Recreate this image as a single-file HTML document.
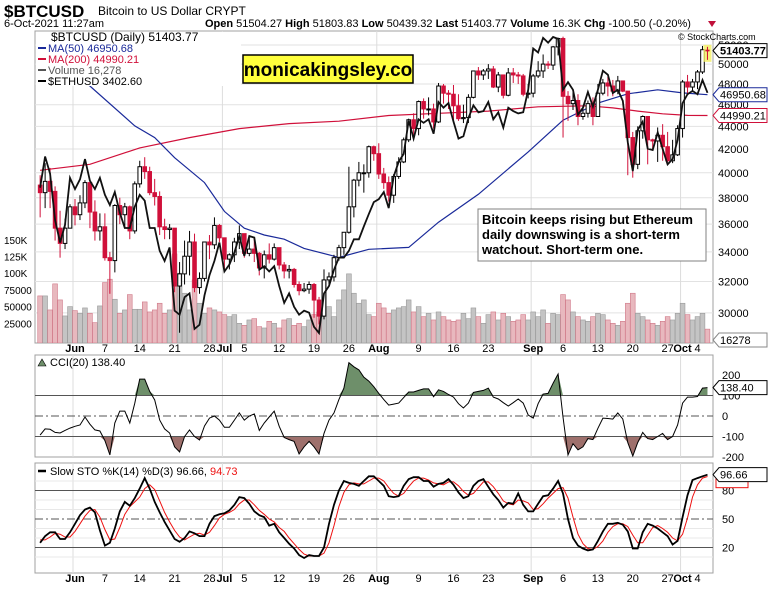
<!DOCTYPE html>
<html><head><meta charset="utf-8"><style>
body{margin:0;background:#fff;}
svg{display:block;font-family:"Liberation Sans",Arial,sans-serif;}
</style></head><body>
<svg id="chart" width="770" height="589" viewBox="0 0 770 589" xmlns="http://www.w3.org/2000/svg">
<defs>
<clipPath id="mainclip"><rect x="35" y="31" width="678" height="312"/></clipPath>
<clipPath id="cciclip"><rect x="35" y="355" width="678" height="102"/></clipPath>
<clipPath id="stoclip"><rect x="35" y="463" width="678" height="110"/></clipPath>
</defs>
<rect x="0" y="0" width="770" height="589" fill="#fff"/>
<text x="4" y="17" font-size="17" font-weight="bold">$BTCUSD</text>
<text x="98" y="15" font-size="12">Bitcoin to US Dollar  CRYPT</text>
<text x="4" y="27" font-size="11">6-Oct-2021 11:27am</text>
<text x="205" y="27" font-size="11"><tspan font-weight="bold">Open</tspan> 51504.27 <tspan font-weight="bold">High</tspan> 51803.83 <tspan font-weight="bold">Low</tspan> 50439.32 <tspan font-weight="bold">Last</tspan> 51403.77 <tspan font-weight="bold">Volume</tspan> 16.3K <tspan font-weight="bold">Chg</tspan> -100.50 (-0.20%)</text>
<polygon points="708,21 716,21 712,27" fill="#c0103a"/>
<g id="g"></g>
<text x="678" y="40" font-size="9">© StockCharts.com</text>
</svg>
<script>
// ---------- DATA ----------
const dayLabels = ['Jun','7','14','21','28','Jul','5','12','19','26','Aug','9','16','23','Sep','6','13','20','27','Oct','4'];
const dayLabelIdx = [7,13,20,27,34,37,41,48,55,62,68,76,83,90,99,105,112,119,126,129,132];
const monthIdx = [7,37,68,99,129];
const priceTicks = [30000,32000,34000,36000,38000,40000,42000,44000,46000,48000,50000,52000];
const volTickLabels = ['150K','125K','100K','75000','50000','25000'];
const volTicks = [150,125,100,75,50,25];
const openFirst = 39000;
const closes = [38400,39300,38500,35700,34600,35700,37300,36700,37600,39200,
36900,35500,35800,33600,33400,37400,36700,37300,35500,39100,
40500,40100,38400,38100,35800,35600,35700,31700,32500,33700,
34700,31600,32200,34700,34500,35900,35000,33500,33800,34700,
35300,33900,34200,33900,32900,33800,33500,34300,33100,32700,
32800,31800,31400,31500,31800,30800,29800,32100,32300,33600,
34300,35400,37300,39400,40000,40000,42200,41600,39900,39200,
38200,39700,40900,42800,44600,43800,46300,45600,45600,44400,
47800,47100,47000,45900,44700,44800,46700,49300,48900,49300,
49500,47700,48900,46900,49100,48900,48800,47000,47100,48800,
49300,50000,49900,51800,52700,46800,46100,46400,44900,45200,
46100,44900,47100,48100,47800,47300,48300,47300,43000,40700,
43600,44900,42800,42700,43200,42200,41000,41500,43800,48200,
47700,48200,49200,51500,51403.77];
const highs = [39800,40800,40400,38900,37000,36400,37500,37900,38200,39400,
39400,37800,36800,36800,34000,37500,38000,37600,37400,39300,
41000,41300,40500,39500,38500,36400,36000,35700,33300,34800,
35500,35300,32600,34700,35200,36500,36000,35000,33900,35000,
35900,35300,35000,35000,34000,34100,34600,34600,34300,33300,
33100,32900,32000,31900,32000,31900,31000,32800,32600,33800,
34500,35400,40500,39500,40900,40700,42300,42300,42500,40400,
39700,39900,41300,43000,44700,45200,46400,46600,46700,46100,
48100,48000,47400,47900,47000,46000,47000,49300,49700,49500,
50000,49800,49200,48900,49600,49600,49200,49000,48000,49000,
50300,51000,50300,51900,52800,52900,47300,47300,47000,45800,
46400,46700,48000,48500,48700,48400,48800,48300,47300,43500,
44000,45000,44900,42900,43900,44200,43500,42800,44100,48400,
48900,48500,49400,51900,51803.83];
const lows = [36500,37200,37200,34800,33600,34200,35700,35900,36300,37200,
35700,34800,34800,33400,31200,32600,36000,35700,34900,35300,
38800,39500,38200,37400,35200,34900,34900,31300,28800,31800,
32400,31300,31200,32000,33500,34200,34700,32800,32800,33300,
34200,33600,33700,33300,32400,32200,33200,33400,32800,32200,
32200,31600,31100,31300,31200,29700,29300,29600,31800,32000,
33400,33800,35300,36500,38900,38400,39600,41000,39500,38700,
37700,37600,39500,40800,42600,43000,43200,44700,45000,43800,
44300,46100,45600,44500,44500,44300,44300,46600,48400,48400,
48500,47600,47200,46600,46800,48100,48000,46800,46600,46700,
48600,48600,49500,49400,50900,43000,44500,45500,44100,44600,
44800,44100,44900,46900,46800,46800,47000,47200,39800,39600,
40300,42900,40700,42000,40900,41000,40900,40800,41400,43000,
47000,47200,47500,49000,50439.32];
const volumesK = [66,66,45,84,60,36,50,44,40,48,
40,26,51,86,91,61,40,45,68,46,
46,57,42,45,55,40,45,129,100,70,
45,90,55,40,48,45,42,38,35,38,
25,22,30,32,20,18,28,25,18,30,
32,22,25,20,30,38,42,90,50,35,
60,75,99,70,55,60,38,35,55,48,
40,45,48,50,60,42,50,35,40,30,
42,35,30,28,30,40,32,48,35,25,
38,42,30,40,35,28,30,38,30,42,
35,45,25,40,38,68,60,42,35,30,
28,35,40,38,30,25,22,28,55,70,
40,35,30,25,22,28,35,30,40,55,
38,30,35,40,16.278];
const eth = [2640,2870,2740,2420,2280,2390,2710,2630,2700,2850,
2690,2630,2710,2590,2520,2610,2470,2370,2370,2510,
2590,2550,2370,2370,2230,2170,2250,1900,1880,1970,
1990,1810,1830,1980,2090,2170,2280,2110,2150,2220,
2320,2200,2320,2310,2120,2140,2110,2140,2030,1940,
1990,1920,1880,1900,1890,1820,1790,1990,2030,2120,
2190,2190,2230,2300,2300,2380,2460,2540,2560,2610,
2500,2720,2830,2890,3160,3010,3170,3140,3170,3050,
3320,3270,3310,3150,3010,3030,3180,3290,3230,3240,
3320,3170,3230,3100,3270,3240,3220,3230,3430,3830,
3790,3940,3890,3950,3930,3430,3500,3430,3210,3270,
3410,3280,3430,3610,3570,3400,3430,3330,2980,2760,
3080,3150,2930,2920,3060,2930,2810,2850,3000,3310,
3390,3420,3390,3520,3402.6];
const ma50Days = [0,5,10,19,23,27,33,37,41,45,49,53,60,66,74,80,88,98,105,112,118,124,129,134];
const ma50Vals = [51500,49300,47800,44040,43000,41260,39200,36950,35700,35200,34900,34250,33620,34180,34320,36140,38270,41750,44560,46160,47040,47430,47130,46950.68];
const ma200Days = [0,10,20,30,40,50,60,70,80,90,100,110,115,120,125,130,134];
const ma200Vals = [40200,40700,42100,43000,43800,44250,44470,44990,45200,45400,45800,45900,45700,45400,45150,45000,44990.21];
const cci = [-93,-63,-65,-80,-83,-70,-59,-50,-44,-5,-40,-68,-73,-120,-190,-34,24,24,-34,63,
180,180,120,78,-20,-63,-83,-150,-175,-100,-68,-100,-117,-49,-10,0,-20,-55,-55,-20,
15,-20,0,10,-70,-34,-5,24,-50,-105,-115,-124,-185,-150,-124,-150,-185,-85,-20,15,
80,136,260,240,225,190,170,143,110,80,53,58,63,90,117,117,125,132,132,94,
128,120,105,92,60,39,63,115,120,125,136,92,83,65,49,65,83,63,5,-10,
60,107,110,160,205,-5,-190,-135,-165,-150,-110,-115,-60,-10,-12,-15,15,-15,-130,-195,
-130,-80,-110,-115,-100,-85,-115,-100,-44,63,92,92,95,136,138.4];
const stoK = [25,32,36,36,29,29,36,45,54,60,62,57,38,22,25,40,58,68,64,72,
82,93,82,68,57,47,38,29,26,30,37,35,32,32,45,53,55,56,59,65,
73,72,66,58,54,52,43,45,36,30,24,19,12,9,12,11,11,20,45,65,
80,90,88,87,85,90,95,95,90,85,74,73,74,85,92,94,94,90,90,84,
87,88,92,86,78,72,74,85,90,92,84,76,70,62,67,66,77,65,58,58,
66,74,75,82,90,77,50,30,22,19,17,18,27,37,45,45,46,44,37,19,
19,36,45,43,40,36,32,23,27,52,75,91,93,95,96.66];
const stoD = [28,28,31,35,34,31,31,37,45,53,59,60,52,39,28,29,41,55,63,68,
73,82,86,81,69,57,47,38,31,28,31,34,35,33,36,43,51,55,57,60,
66,70,70,65,59,55,50,47,41,37,30,24,18,13,11,11,11,14,25,43,
63,78,86,88,87,87,90,93,93,90,83,77,74,77,84,90,93,93,91,88,
87,86,89,89,85,79,75,77,83,89,89,84,77,69,66,65,70,69,67,60,
61,66,72,77,82,83,72,52,34,24,19,18,21,27,36,42,45,45,42,33,
25,25,33,41,43,40,36,30,27,34,51,73,86,93,94.73];

// ---------- SCALES ----------
const X = d => 40.14 + d*4.98;
const PY = p => 45 + 487*Math.log(52000/p);
const EY = e => 37 + 374*Math.log(3950/e);
const VY = v => 340 - v*0.668;
const CY = v => 416 - v*0.205;
const SY = v => 566.5 - v*0.95;

const NS='http://www.w3.org/2000/svg';
const root=document.getElementById('g');
function mk(tag, attrs, parent){const e=document.createElementNS(NS,tag);for(const k in attrs)e.setAttribute(k,attrs[k]);(parent||root).appendChild(e);return e;}
function txt(x,y,s,attrs,parent){const t=mk('text',Object.assign({x:x,y:y,'font-size':11},attrs||{}),parent);t.textContent=s;return t;}

// panels
const panels=[[35,31,678,312],[35,355,678,102],[35,463,678,110]];
panels.forEach((p,i)=>{
  const r=mk('rect',{x:p[0],y:p[1],width:p[2],height:p[3],fill:'#fff',stroke:'#a0a0a0'});
  
  
});

// gridlines main
priceTicks.forEach(p=>{
  const l=mk('line',{x1:35,x2:713,y1:PY(p),y2:PY(p),stroke:'#e2e2e2'});
  
  
  const t=txt(718,PY(p)+4,String(p));
  
  
});
monthIdx.forEach(d=>{
  [[31,343],[355,457],[463,573]].forEach(r=>{
    const l=mk('line',{x1:X(d)-2,x2:X(d)-2,y1:r[0],y2:r[1],stroke:'#dcdcdc'});
    
    
  });
});
volTicks.forEach((v,i)=>{
  const t=txt(4,VY(v)+4,volTickLabels[i],{'font-size':10});
  
  
});

// date labels
dayLabels.forEach((s,i)=>{
  const isMonth=monthIdx.indexOf(dayLabelIdx[i])>=0;
  [352,582].forEach(y=>{
    const t=txt(X(dayLabelIdx[i]),y,s,{'text-anchor':'middle','font-weight':isMonth?'bold':'normal'});
    
    
  });
});

// main clipped group
const mg=mk('g',{'clip-path':'url(#mainclip)'});
volumesK.forEach((v,d)=>{
  const o=d===0?openFirst:closes[d-1];
  const down=closes[d]<o;
  const b=mk('rect',{x:X(d)-2.4,y:VY(v),width:4.8,height:340-VY(v)+3,fill:down?'#e8b8be':'#c4c4c4',stroke:down?'#d07888':'#9a9a9a','stroke-width':0.6},mg);
  
  
});
function pathFrom(ds,vs,fy){return ds.map((d,i)=>(i?'L':'M')+X(d).toFixed(1)+','+fy(vs[i]).toFixed(1)).join(' ');}
const m200=mk('path',{d:pathFrom(ma200Days,ma200Vals,PY),fill:'none',stroke:'#d0103a','stroke-width':1.2},mg);


const m50=mk('path',{d:pathFrom(ma50Days,ma50Vals,PY),fill:'none',stroke:'#1a2a9a','stroke-width':1.2},mg);


closes.forEach((c,d)=>{
  const o=d===0?openFirst:closes[d-1];
  const prev=d===0?openFirst:closes[d-1];
  const col=c<prev?'#d0103a':'#000';
  const x=X(d);
  const w=mk('line',{x1:x,x2:x,y1:PY(highs[d]),y2:PY(lows[d]),stroke:col,'stroke-width':1},mg);
  
  
  const top=PY(Math.max(o,c)),bot=PY(Math.min(o,c));
  const b=mk('rect',{x:x-1.8,y:top,width:3.6,height:Math.max(1,bot-top),fill:c<o?col:'#fff',stroke:col,'stroke-width':1},mg);
  
  
});
const ethPath=mk('path',{d:eth.map((e,d)=>(d?'L':'M')+X(d).toFixed(1)+','+EY(e).toFixed(1)).join(' '),fill:'none',stroke:'#111','stroke-width':1.8},mg);


const hl=mk('rect',{x:X(134)-4,y:PY(highs[134])-2,width:8,height:PY(lows[134])-PY(highs[134])+4,fill:'#f4f060',opacity:0.8});


const hc=mk('line',{x1:X(134),x2:X(134),y1:PY(highs[134]),y2:PY(lows[134]),stroke:'#d0103a'});


const hb=mk('line',{x1:X(134)-2,x2:X(134)+2,y1:PY(closes[134]),y2:PY(closes[134]),stroke:'#d0103a','stroke-width':1.5});



// legend
const lg=mk('rect',{x:36,y:32,width:205,height:54,fill:'#fff'});


const legendItems=[['$BTCUSD (Daily) 51403.77','#000',12,41],['MA(50) 46950.68','#1a2a9a',11,52],['MA(200) 44990.21','#d0103a',11,63],['Volume 16,278','#555',11,74],['$ETHUSD 3402.60','#000',11,85]];
legendItems.forEach((it,i)=>{
  const t=txt(i===0?51:48,it[3],it[0],{fill:it[1],'font-size':it[2]});
  
  
  if(i>0){
    const m=mk('line',{x1:38,x2:46,y1:it[3]-4,y2:it[3]-4,stroke:it[1],'stroke-width':2});
    
    
  }
});

function valBox(y,s,col,name,bold){
  const g=mk('g',{});
  
  
  mk('path',{d:`M713,${y} L719,${y-7} L767,${y-7} L767,${y+7} L719,${y+7} Z`,fill:'#fff',stroke:col},g);
  txt(720,y+4,s,{fill:'#000','font-size':11,'font-weight':bold?'bold':'normal'},g);
}
valBox(PY(ma200Vals[ma200Vals.length-1]),'44990.21','#d0103a','ma200-value-box');
valBox(PY(ma50Vals[ma50Vals.length-1]),'46950.68','#1a2a9a','ma50-value-box');
valBox(PY(closes[134]),'51403.77','#000','last-price-box',true);
valBox(340,'16278','#888','volume-value-box');

const wm=mk('rect',{x:243,y:55,width:170,height:28,fill:'#ffff3c',stroke:'#000','stroke-width':1.5});


const wmt=txt(328,76,'monicakingsley.co',{'text-anchor':'middle','font-size':19,'font-weight':'bold'});


const ab=mk('rect',{x:478,y:209,width:228,height:52,fill:'#fff',stroke:'#808080'});


['Bitcoin keeps rising but Ethereum','daily downswing is a short-term','watchout. Short-term one.'].forEach((s,i)=>{
  const t=txt(482,224+i*15,s,{'font-size':13,'font-weight':'bold'});
  
  
});

// ---------- CCI ----------
[200,100,0,-100,-200].forEach(v=>{
  const t=txt(722,CY(v)+4,String(v),{'font-size':11});
  
  
});
const cg=mk('g',{'clip-path':'url(#cciclip)'});
const cciTop=mk('path',{d:'M'+X(0)+','+CY(100)+' '+cci.map((v,d)=>'L'+X(d).toFixed(1)+','+CY(Math.max(v,100)).toFixed(1)).join(' ')+' L'+X(134)+','+CY(100)+' Z',fill:'#6e8f6a',stroke:'none'},cg);


const cciBot=mk('path',{d:'M'+X(0)+','+CY(-100)+' '+cci.map((v,d)=>'L'+X(d).toFixed(1)+','+CY(Math.min(v,-100)).toFixed(1)).join(' ')+' L'+X(134)+','+CY(-100)+' Z',fill:'#9e706c',stroke:'none'},cg);


[[100,''],[-100,''],[0,'8,3,2,3']].forEach(a=>{
  const l=mk('line',{x1:35,x2:713,y1:CY(a[0]),y2:CY(a[0]),stroke:'#555','stroke-dasharray':a[1]},cg);
  
  
});
const cciLine=mk('path',{d:cci.map((v,d)=>(d?'L':'M')+X(d).toFixed(1)+','+CY(v).toFixed(1)).join(' '),fill:'none',stroke:'#000','stroke-width':1},cg);


const cl=txt(50,366,'CCI(20) 138.40',{'font-size':11});


const ci=mk('path',{d:'M38,366 L42,359 L46,366 Z',fill:'#6e8f6a',stroke:'#000','stroke-width':0.6});


valBox(CY(138.4),'138.40','#000','cci-value-box');

// ---------- STO ----------
const sg=mk('g',{'clip-path':'url(#stoclip)'});
[10,30,40,60,70,90].forEach(v=>{
  const l=mk('line',{x1:35,x2:713,y1:SY(v),y2:SY(v),stroke:'#e8e8e8'},sg);
  
  
});
[[80,''],[20,''],[50,'8,3,2,3']].forEach(a=>{
  const l=mk('line',{x1:35,x2:713,y1:SY(a[0]),y2:SY(a[0]),stroke:'#555','stroke-dasharray':a[1]},sg);
  
  
  const t=txt(722,SY(a[0])+4,String(a[0]),{'font-size':11});
  
  
});
const dLine=mk('path',{d:stoD.map((v,d)=>(d?'L':'M')+X(d).toFixed(1)+','+SY(v).toFixed(1)).join(' '),fill:'none',stroke:'#ee1111','stroke-width':1},sg);


const kLine=mk('path',{d:stoK.map((v,d)=>(d?'L':'M')+X(d).toFixed(1)+','+SY(v).toFixed(1)).join(' '),fill:'none',stroke:'#000','stroke-width':1.8},sg);


const sl=txt(50,475,'Slow STO %K(14) %D(3) 96.66, ',{'font-size':11});


const ts=mk('tspan',{fill:'#ee1111'},sl); ts.textContent='94.73';
const sli=mk('line',{x1:38,x2:46,y1:471,y2:471,stroke:'#000','stroke-width':2.5});


const dBox=mk('rect',{x:716,y:SY(96.66)-1,width:32,height:14,fill:'#fff',stroke:'#ee1111'});


valBox(SY(96.66),'96.66','#000','sto-k-value-box');
</script>
</body></html>
